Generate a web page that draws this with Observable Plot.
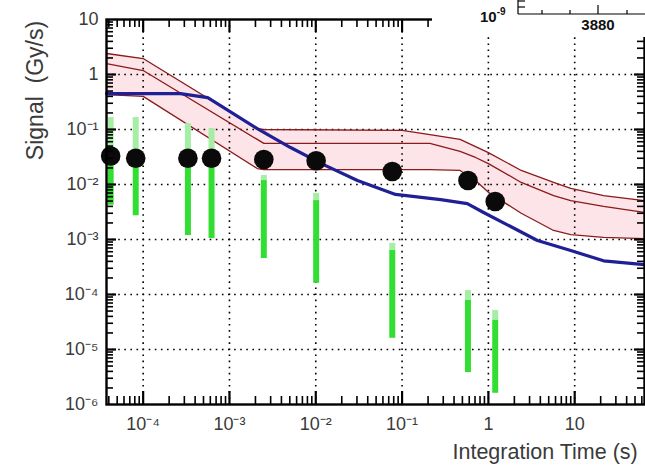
<!DOCTYPE html>
<html><head><meta charset="utf-8">
<script src="https://cdn.jsdelivr.net/npm/d3@7"></script>
<script src="https://cdn.jsdelivr.net/npm/@observablehq/plot@0.6"></script>
<style>
body{margin:0;background:#fff;}
#wrap{position:relative;width:645px;height:469px;overflow:hidden;font-family:"Liberation Sans",Arial,sans-serif;}
#overlay{position:absolute;left:0;top:0;}
</style>
</head><body><div id="wrap"></div>
<script>
// Black dots (measured signal)
const dotTime   = [4.2e-5, 8.2e-5, 3.3e-4, 6.2e-4, 2.5e-3, 0.0101, 0.077, 0.58, 1.2];
const dotSignal = [0.033, 0.030, 0.030, 0.030, 0.0285, 0.027, 0.0172, 0.0118, 0.0049];
// Green bars (ranges)
const barTop      = [0.165, 0.165, 0.128, 0.104, 0.0146, 0.0069, 8.5e-4, 1.18e-4, 5.1e-5];
const barSolidTop = [0.033, 0.030, 0.030, 0.030, 0.0118, 0.0051, 6.3e-4, 7.8e-5, 3.4e-5];
const barBottom   = [0.0042, 0.0027, 0.00118, 0.00104, 4.5e-4, 1.6e-4, 1.6e-5, 3.8e-6, 1.6e-6];
// Blue curve
const blueTime   = [3.76e-5, 2.7e-4, 5.6e-4, 2.1e-3, 5.1e-3, 0.0123, 0.0304, 0.084, 0.28, 0.57, 0.88, 3.7, 9.0, 21.6, 64];
const blueSignal = [0.45, 0.45, 0.38, 0.104, 0.047, 0.023, 0.0118, 0.0066, 0.0053, 0.0045, 0.0031, 0.00096, 0.00063, 0.00041, 0.00035];
// Red curves (upper / middle / lower) with pink band
const redTime   = [3.76e-5, 1e-4, 2.1e-3, 2.5e-3, 0.1, 0.21, 0.47, 0.71, 1.0, 2.4, 5.7, 9.0, 21.6, 64];
const redUpper  = [2.41, 1.95, 0.104, 0.1, 0.096, 0.081, 0.066, 0.049, 0.038, 0.018, 0.0109, 0.0085, 0.0063, 0.0051];
const redMiddle = [1.58, 1.18, 0.066, 0.056, 0.056, 0.056, 0.04, 0.031, 0.024, 0.0109, 0.0063, 0.0051, 0.004, 0.0031];
const redLower  = [0.43, 0.40, 0.0195, 0.0187, 0.0187, 0.0187, 0.018, 0.0118, 0.0072, 0.003, 0.00146, 0.00123, 0.00109, 0.00104];
// Ticks
const xTicks = [1e-4, 1e-3, 1e-2, 1e-1, 1, 10];
const xTickLabels = ["10\u207B\u2074", "10\u207B\u00B3", "10\u207B\u00B2", "10\u207B\u00B9", "1", "10"];
const yTicks = [1e-6, 1e-5, 1e-4, 1e-3, 1e-2, 1e-1, 1, 10];
const yTickLabels = ["10\u207B\u2076", "10\u207B\u2075", "10\u207B\u2074", "10\u207B\u00B3", "10\u207B\u00B2", "10\u207B\u00B9", "1", "10"];
const xTitle = "Integration Time (s)";
const yTitle = "Signal  (Gy/s)";

const W = 645, H = 469, mL = 106, mT = 19, mR = 1, mB = 65;
const iw = W - mL - mR, ih = H - mT - mB;
const xDomain = [3.76e-5, 64.4], yDomain = [1e-6, 10];

const minor = (lo, hi) => {
  const out = [];
  for (let e = Math.floor(Math.log10(lo)); e <= Math.ceil(Math.log10(hi)); e++)
    for (let k = 2; k <= 9; k++) { const v = k * Math.pow(10, e); if (v > lo && v < hi) out.push(v); }
  return out;
};
const xMinor = minor(...xDomain), yMinor = minor(...yDomain);
const xMajIn = xTicks.filter(v => v > xDomain[0] && v < xDomain[1]);
const yMajIn = yTicks.filter(v => v > yDomain[0] && v < yDomain[1]);

const bars = dotTime.map((t, i) => ({t, top: barTop[i], mid: barSolidTop[i], bot: barBottom[i]}));
const dots = dotTime.map((t, i) => ({t, s: dotSignal[i]}));
const blue = blueTime.map((t, i) => ({t, s: blueSignal[i]}));
const red = redTime.map((t, i) => ({t, hi: redUpper[i], mid: redMiddle[i], lo: redLower[i]}));
const xLab = new Map(xTicks.map((v, i) => [v, xTickLabels[i]]));
const yLab = new Map(yTicks.map((v, i) => [v, yTickLabels[i]]));

const grid = {stroke: "black", strokeWidth: 1.6, strokeDasharray: "1.6,4.5"};
const redStyle = {stroke: "#8b1a1a", strokeWidth: 1.3};

const chart = Plot.plot({
  width: W, height: H, marginLeft: mL, marginTop: mT, marginRight: mR, marginBottom: mB,
  x: {type: "log", domain: xDomain},
  y: {type: "log", domain: yDomain},
  style: {fontFamily: "'Liberation Sans', Arial, sans-serif", fontSize: "18px", color: "#3a3a3a", background: "white"},
  marks: [
    Plot.areaY(red, {x: "t", y1: "lo", y2: "hi", fill: "#fbdde4", fillOpacity: 0.8, curve: "linear"}),
    Plot.ruleX(xMajIn, grid),
    Plot.ruleY(yMajIn, grid),
    Plot.line(red, {x: "t", y: "hi", ...redStyle}),
    Plot.line(red, {x: "t", y: "mid", ...redStyle}),
    Plot.line(red, {x: "t", y: "lo", ...redStyle}),
    Plot.ruleX(bars, {x: "t", y1: "top", y2: "mid", stroke: "#a6eda6", strokeWidth: 6}),
    Plot.ruleX(bars, {x: "t", y1: "mid", y2: "bot", stroke: "#33de33", strokeWidth: 6}),
    Plot.line(blue, {x: "t", y: "s", stroke: "#1f1f96", strokeWidth: 3.2}),
    Plot.dot(dots, {x: "t", y: "s", r: 9.8, fill: "#0a0a0a"}),
    // inner ticks on all four sides
    Plot.tickY(yMajIn, {insetRight: iw - 10, stroke: "black", strokeWidth: 2.2}),
    Plot.tickY(yMinor, {insetRight: iw - 7, stroke: "black", strokeWidth: 1.6}),
    Plot.tickY(yMajIn, {insetLeft: iw - 10, stroke: "black", strokeWidth: 2.2}),
    Plot.tickY(yMinor, {insetLeft: iw - 7, stroke: "black", strokeWidth: 1.6}),
    Plot.tickX(xMajIn, {insetTop: ih - 13, stroke: "black", strokeWidth: 2.2}),
    Plot.tickX(xMinor, {insetTop: ih - 8, stroke: "black", strokeWidth: 1.6}),
    Plot.tickX(xMajIn, {insetBottom: ih - 13, stroke: "black", strokeWidth: 2.2}),
    Plot.tickX(xMinor, {insetBottom: ih - 8, stroke: "black", strokeWidth: 1.6}),
    Plot.frame({stroke: "black", strokeWidth: 2.4}),
    Plot.axisX(xTicks, {tickSize: 0, tickPadding: 13, tickFormat: d => xLab.get(d), label: null, fontSize: 18}),
    Plot.axisY(yTicks, {tickSize: 0, tickPadding: 8, tickFormat: d => yLab.get(d), label: null, fontSize: 18}),
    Plot.text([xTitle], {frameAnchor: "bottom-left", dx: 346, dy: 54, textAnchor: "start", fontSize: 21.5, fill: "#3a3a3a"}),
    Plot.text([yTitle], {frameAnchor: "top-left", dx: -80, dy: 71, rotate: -90, textAnchor: "middle", fontSize: 23, fill: "#3a3a3a"})
  ]
});
const wrap = document.getElementById("wrap");
wrap.appendChild(chart);

// overlay: fragment of another figure pasted over the top-right corner
const ns = "http://www.w3.org/2000/svg";
const ov = document.createElementNS(ns, "svg");
ov.setAttribute("id", "overlay"); ov.setAttribute("width", W); ov.setAttribute("height", 40);
ov.innerHTML = `
<rect x="432" y="0" width="213" height="37" fill="white"/>
<g stroke="black" stroke-width="1.2" fill="none">
  <line x1="518" y1="0" x2="518" y2="14"/>
  <line x1="518" y1="1" x2="525" y2="1"/>
  <line x1="518" y1="7" x2="525" y2="7"/>
  <line x1="518" y1="14" x2="645" y2="14"/>
  <line x1="542" y1="10" x2="542" y2="14"/>
  <line x1="570" y1="10" x2="570" y2="14"/>
  <line x1="598" y1="5" x2="598" y2="14"/>
  <line x1="627" y1="10" x2="627" y2="14"/>
</g>
<text x="480" y="22" font-family="Liberation Sans, Arial, sans-serif" font-weight="bold" font-size="15" fill="#111">10<tspan dy="-7" font-size="10">-9</tspan></text>
<text x="598" y="30" text-anchor="middle" font-family="Liberation Sans, Arial, sans-serif" font-weight="bold" font-size="15" fill="#111">3880</text>`;
wrap.appendChild(ov);
</script>
</body></html>
